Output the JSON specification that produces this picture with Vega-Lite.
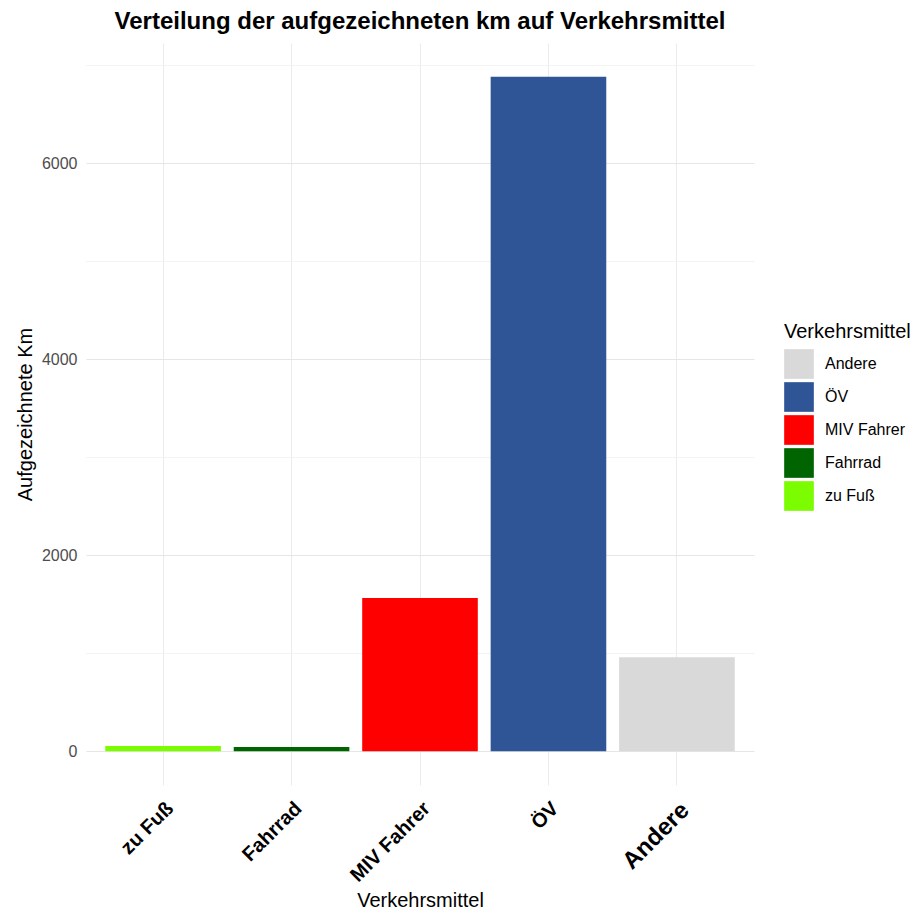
{
  "$schema": "https://vega.github.io/schema/vega-lite/v6.json",
  "autosize": "none",
  "width": 668,
  "height": 742,
  "padding": {"left": 86, "top": 43, "right": 164, "bottom": 125},
  "background": "white",
  "config": {
    "font": "Liberation Sans",
    "view": {"stroke": null}
  },
  "title": {
    "text": "Verteilung der aufgezeichneten km auf Verkehrsmittel",
    "fontSize": 24,
    "fontWeight": "bold",
    "color": "black",
    "anchor": "middle",
    "offset": 9
  },
  "data": {
    "values": [
      {"Verkehrsmittel": "zu Fuß", "km": 55},
      {"Verkehrsmittel": "Fahrrad", "km": 45},
      {"Verkehrsmittel": "MIV Fahrer", "km": 1565},
      {"Verkehrsmittel": "ÖV", "km": 6885},
      {"Verkehrsmittel": "Andere", "km": 960}
    ]
  },
  "mark": {"type": "bar"},
  "encoding": {
    "x": {
      "field": "Verkehrsmittel",
      "type": "nominal",
      "sort": ["zu Fuß", "Fahrrad", "MIV Fahrer", "ÖV", "Andere"],
      "scale": {"paddingInner": 0.1, "paddingOuter": 0.15},
      "axis": {
        "title": "Verkehrsmittel",
        "titleFontSize": 20,
        "titleFontWeight": "normal",
        "titleColor": "black",
        "titlePadding": 5,
        "labelAngle": -45,
        "labelAlign": "right",
        "labelBaseline": "top",
        "labelFontWeight": "bold",
        "labelColor": "black",
        "labelFontSize": {"condition": {"test": "datum.value === 'Andere'", "value": 24}, "value": 20},
        "labelPadding": 13,
        "ticks": false,
        "domain": false,
        "grid": true,
        "gridColor": "#ebebeb",
        "gridWidth": 1
      }
    },
    "y": {
      "field": "km",
      "type": "quantitative",
      "scale": {"domain": [-344, 7229], "nice": false, "zero": false},
      "axis": {
        "title": "Aufgezeichnete Km",
        "titleFontSize": 20,
        "titleFontWeight": "normal",
        "titleColor": "black",
        "titlePadding": 6,
        "values": [0, 1000, 2000, 3000, 4000, 5000, 6000, 7000],
        "labelExpr": "datum.value % 2000 === 0 ? datum.value : ''",
        "labelFontSize": 16,
        "labelColor": "#4d4d4d",
        "labelPadding": 9,
        "ticks": false,
        "domain": false,
        "grid": true,
        "gridColor": {"condition": {"test": "datum.value % 2000 === 0", "value": "#e6e6e6"}, "value": "#f3f3f3"},
        "gridWidth": 1
      }
    },
    "color": {
      "field": "Verkehrsmittel",
      "type": "nominal",
      "scale": {
        "domain": ["Andere", "ÖV", "MIV Fahrer", "Fahrrad", "zu Fuß"],
        "range": ["#d9d9d9", "#2f5597", "#ff0000", "#006400", "#7cfc00"]
      },
      "legend": {
        "title": "Verkehrsmittel",
        "orient": "none",
        "legendX": 698,
        "legendY": 279,
        "padding": 0,
        "titleFontSize": 20,
        "titleFontWeight": "normal",
        "titleColor": "black",
        "titlePadding": 7,
        "symbolType": "square",
        "symbolSize": 880,
        "symbolStrokeWidth": 0,
        "rowPadding": 3,
        "labelFontSize": 16,
        "labelColor": "black",
        "labelOffset": 11
      }
    }
  }
}
